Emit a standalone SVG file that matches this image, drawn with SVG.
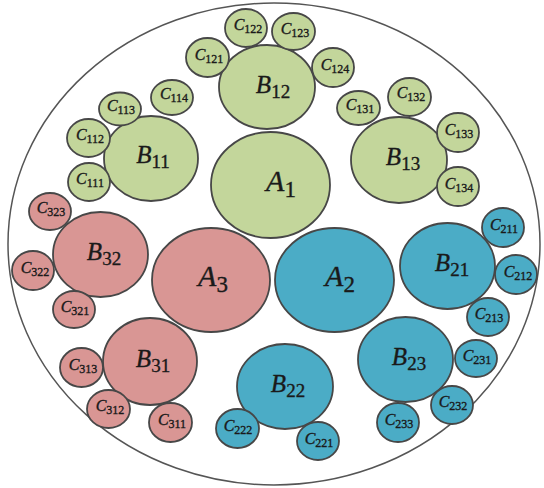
<svg xmlns="http://www.w3.org/2000/svg" width="544" height="488" viewBox="0 0 544 488">
<style>
.g{fill:#c3d69b}.r{fill:#d99694}.b{fill:#4bacc6}
ellipse{stroke:#474747;stroke-width:1.8}
.o{fill:none;stroke:#555;stroke-width:1.5}
text{font-family:"Liberation Serif","Times New Roman",serif;fill:#1a1a1a;stroke:#1a1a1a;stroke-width:0.35;text-anchor:middle}
.v{font-style:italic}
.ta{font-size:30px}.ts{font-size:23px}
.tb{font-size:25px}.tbs{font-size:19px}
.tc{font-size:16px}.tcs{font-size:12px}
</style>
<rect width="544" height="488" fill="#fff"/>
<ellipse id="outer" class="o" cx="274" cy="244" rx="266" ry="241"/>

<g id="A1"><ellipse class="g" cx="270.5" cy="185" rx="59.5" ry="53"/><text class="ta" x="281" y="191"><tspan class="v">A</tspan><tspan class="ts" dy="6">1</tspan></text></g>
<g id="A3"><ellipse class="r" cx="211" cy="280" rx="59" ry="52"/><text class="ta" x="213" y="286"><tspan class="v">A</tspan><tspan class="ts" dy="6">3</tspan></text></g>
<g id="A2"><ellipse class="b" cx="334.5" cy="280" rx="59.5" ry="52"/><text class="ta" x="340" y="286"><tspan class="v">A</tspan><tspan class="ts" dy="6">2</tspan></text></g>

<g id="B12"><ellipse class="g" cx="267" cy="87" rx="48" ry="42"/><text class="tb" x="273" y="93"><tspan class="v">B</tspan><tspan class="tbs" dy="5">12</tspan></text></g>
<g id="B11"><ellipse class="g" cx="151" cy="158.5" rx="47" ry="42.5"/><text class="tb" x="153" y="163"><tspan class="v">B</tspan><tspan class="tbs" dy="5">11</tspan></text></g>
<g id="B13"><ellipse class="g" cx="399" cy="160" rx="48" ry="43"/><text class="tb" x="403" y="165"><tspan class="v">B</tspan><tspan class="tbs" dy="5">13</tspan></text></g>
<g id="B32"><ellipse class="r" cx="100.5" cy="254.5" rx="47.5" ry="42.5"/><text class="tb" x="104" y="260"><tspan class="v">B</tspan><tspan class="tbs" dy="5">32</tspan></text></g>
<g id="B31"><ellipse class="r" cx="150" cy="361.5" rx="47" ry="43.5"/><text class="tb" x="153" y="367"><tspan class="v">B</tspan><tspan class="tbs" dy="5">31</tspan></text></g>
<g id="B21"><ellipse class="b" cx="447.5" cy="266" rx="47.5" ry="43"/><text class="tb" x="452" y="271"><tspan class="v">B</tspan><tspan class="tbs" dy="5">21</tspan></text></g>
<g id="B22"><ellipse class="b" cx="285" cy="386.5" rx="48" ry="42.5"/><text class="tb" x="288" y="392"><tspan class="v">B</tspan><tspan class="tbs" dy="5">22</tspan></text></g>
<g id="B23"><ellipse class="b" cx="405.5" cy="359.5" rx="47.5" ry="42.5"/><text class="tb" x="409" y="365"><tspan class="v">B</tspan><tspan class="tbs" dy="5">23</tspan></text></g>

<g id="C121"><ellipse class="g" cx="207.5" cy="57.5" rx="21.5" ry="19.5"/><text class="tc" x="209" y="60"><tspan class="v">C</tspan><tspan class="tcs" dy="3">121</tspan></text></g>
<g id="C122"><ellipse class="g" cx="246" cy="28" rx="21" ry="19"/><text class="tc" x="248" y="30"><tspan class="v">C</tspan><tspan class="tcs" dy="3">122</tspan></text></g>
<g id="C123"><ellipse class="g" cx="293.5" cy="31.5" rx="21.5" ry="18.5"/><text class="tc" x="295" y="34"><tspan class="v">C</tspan><tspan class="tcs" dy="3">123</tspan></text></g>
<g id="C124"><ellipse class="g" cx="333" cy="67.5" rx="21" ry="19.5"/><text class="tc" x="335" y="70"><tspan class="v">C</tspan><tspan class="tcs" dy="3">124</tspan></text></g>
<g id="C113"><ellipse class="g" cx="120" cy="109" rx="21" ry="16.5"/><text class="tc" x="121" y="111"><tspan class="v">C</tspan><tspan class="tcs" dy="3">113</tspan></text></g>
<g id="C114"><ellipse class="g" cx="172" cy="97.5" rx="21" ry="17.5"/><text class="tc" x="174" y="99"><tspan class="v">C</tspan><tspan class="tcs" dy="3">114</tspan></text></g>
<g id="C112"><ellipse class="g" cx="88.5" cy="138" rx="21.5" ry="19"/><text class="tc" x="90" y="140"><tspan class="v">C</tspan><tspan class="tcs" dy="3">112</tspan></text></g>
<g id="C111"><ellipse class="g" cx="89" cy="182" rx="21" ry="19"/><text class="tc" x="90" y="184"><tspan class="v">C</tspan><tspan class="tcs" dy="3">111</tspan></text></g>
<g id="C131"><ellipse class="g" cx="358.5" cy="108" rx="21.5" ry="17"/><text class="tc" x="360" y="110"><tspan class="v">C</tspan><tspan class="tcs" dy="3">131</tspan></text></g>
<g id="C132"><ellipse class="g" cx="409.5" cy="97" rx="21.5" ry="19"/><text class="tc" x="411" y="98"><tspan class="v">C</tspan><tspan class="tcs" dy="3">132</tspan></text></g>
<g id="C133"><ellipse class="g" cx="458" cy="132.5" rx="21" ry="19.5"/><text class="tc" x="459" y="135"><tspan class="v">C</tspan><tspan class="tcs" dy="3">133</tspan></text></g>
<g id="C134"><ellipse class="g" cx="458" cy="186.5" rx="21" ry="19.5"/><text class="tc" x="459" y="189"><tspan class="v">C</tspan><tspan class="tcs" dy="3">134</tspan></text></g>
<g id="C323"><ellipse class="r" cx="50" cy="211.5" rx="21" ry="18.5"/><text class="tc" x="51" y="213"><tspan class="v">C</tspan><tspan class="tcs" dy="3">323</tspan></text></g>
<g id="C322"><ellipse class="r" cx="33" cy="270.5" rx="21" ry="19.5"/><text class="tc" x="35" y="273"><tspan class="v">C</tspan><tspan class="tcs" dy="3">322</tspan></text></g>
<g id="C321"><ellipse class="r" cx="74" cy="309.5" rx="21" ry="18.5"/><text class="tc" x="75" y="312"><tspan class="v">C</tspan><tspan class="tcs" dy="3">321</tspan></text></g>
<g id="C313"><ellipse class="r" cx="81.5" cy="367.5" rx="21.5" ry="19.5"/><text class="tc" x="83" y="370"><tspan class="v">C</tspan><tspan class="tcs" dy="3">313</tspan></text></g>
<g id="C312"><ellipse class="r" cx="108.5" cy="409" rx="21.5" ry="19"/><text class="tc" x="110" y="411"><tspan class="v">C</tspan><tspan class="tcs" dy="3">312</tspan></text></g>
<g id="C311"><ellipse class="r" cx="170.5" cy="422.5" rx="21.5" ry="19.5"/><text class="tc" x="172" y="425"><tspan class="v">C</tspan><tspan class="tcs" dy="3">311</tspan></text></g>
<g id="C211"><ellipse class="b" cx="503" cy="227.5" rx="21" ry="19.5"/><text class="tc" x="504" y="230"><tspan class="v">C</tspan><tspan class="tcs" dy="3">211</tspan></text></g>
<g id="C212"><ellipse class="b" cx="516" cy="274.5" rx="21" ry="19.5"/><text class="tc" x="518" y="277"><tspan class="v">C</tspan><tspan class="tcs" dy="3">212</tspan></text></g>
<g id="C213"><ellipse class="b" cx="488" cy="317" rx="21" ry="19"/><text class="tc" x="489" y="319"><tspan class="v">C</tspan><tspan class="tcs" dy="3">213</tspan></text></g>
<g id="C222"><ellipse class="b" cx="237.5" cy="428.5" rx="21.5" ry="19.5"/><text class="tc" x="238" y="431"><tspan class="v">C</tspan><tspan class="tcs" dy="3">222</tspan></text></g>
<g id="C221"><ellipse class="b" cx="318" cy="441" rx="21" ry="19"/><text class="tc" x="319" y="444"><tspan class="v">C</tspan><tspan class="tcs" dy="3">221</tspan></text></g>
<g id="C231"><ellipse class="b" cx="476" cy="358.5" rx="21" ry="18.5"/><text class="tc" x="477" y="361"><tspan class="v">C</tspan><tspan class="tcs" dy="3">231</tspan></text></g>
<g id="C232"><ellipse class="b" cx="452" cy="405" rx="21" ry="19"/><text class="tc" x="453" y="407"><tspan class="v">C</tspan><tspan class="tcs" dy="3">232</tspan></text></g>
<g id="C233"><ellipse class="b" cx="398" cy="422.5" rx="21" ry="19.5"/><text class="tc" x="399" y="425"><tspan class="v">C</tspan><tspan class="tcs" dy="3">233</tspan></text></g>
</svg>
